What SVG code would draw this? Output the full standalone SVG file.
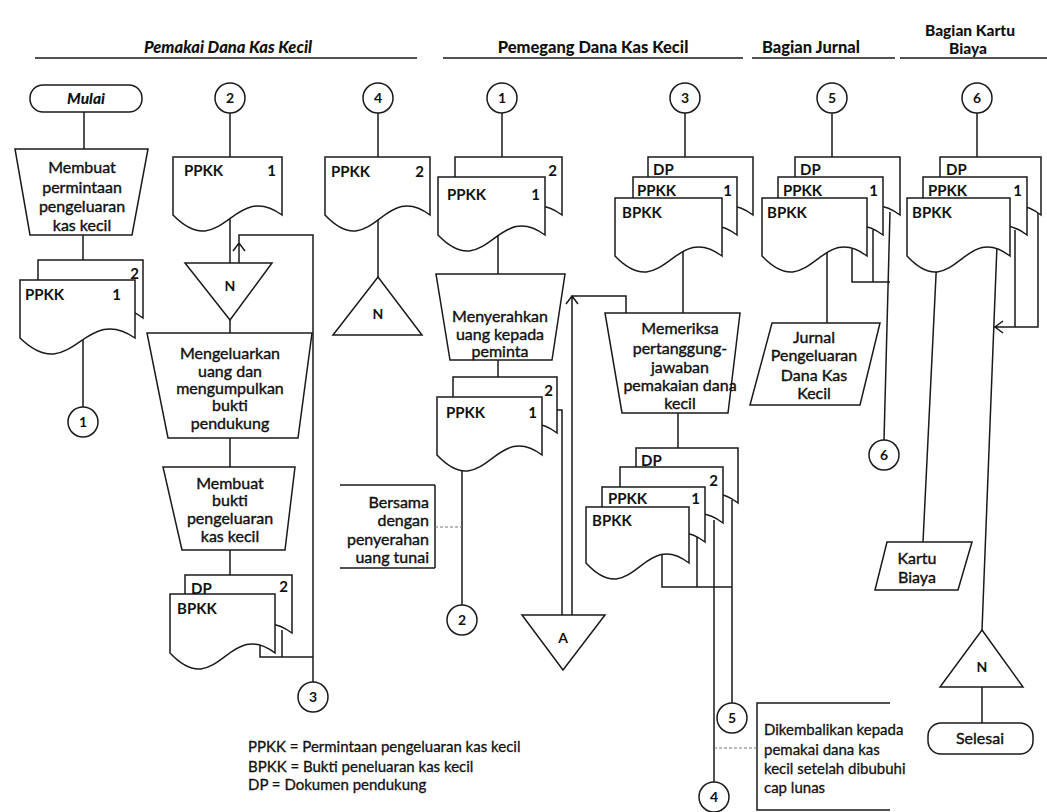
<svg xmlns="http://www.w3.org/2000/svg" width="1047" height="812" viewBox="0 0 1047 812">
<style>
.s{fill:#fff;stroke:#1a1a1a;stroke-width:1.5}
.l{fill:none;stroke:#1a1a1a;stroke-width:1.5}
.ds{fill:none;stroke:#777;stroke-width:1;stroke-dasharray:3 2}
text{font-family:Lato,"Open Sans","Liberation Sans",sans-serif;fill:#111}
.p{font-size:16px;text-anchor:middle;stroke:#111;stroke-width:0.4}
.d{font-size:15px;font-weight:bold}
.de{font-size:15px;font-weight:bold;text-anchor:end}
.c{font-size:14px;font-weight:bold;text-anchor:middle}
.h{font-size:16.5px;font-weight:900;text-anchor:middle}
.hk{font-size:15.5px;font-weight:900;text-anchor:middle}
.n{font-size:15px;stroke:#111;stroke-width:0.3}
.r{font-size:16px;text-anchor:end;stroke:#111;stroke-width:0.4}
</style>
<rect width="1047" height="812" fill="#fff"/>
<g id="header">
<text class="h" x="228" y="53" font-style="italic">Pemakai Dana Kas Kecil</text>
<text class="h" x="593" y="53">Pemegang Dana Kas Kecil</text>
<text class="h" x="811" y="53">Bagian Jurnal</text>
<text class="hk" x="970" y="36">Bagian Kartu</text>
<text class="hk" x="968" y="54">Biaya</text>
<path class="l" d="M35,58H417M443,58H743M752,58H895M900,58H1047"/>
</g>
<g id="connectors">
<path class="l" d="M84,112V150M83,235V260M83,330V407"/>
<path class="l" d="M230,113V157M230,210V263M230,320V333M230,438V467M230,550V575"/>
<path class="l" d="M239,263V235H313V682M233,251L239,243L245,251"/>
<path class="l" d="M260,640V657H313M282,630V657"/>
<path class="l" d="M378,113V157M378,210V277"/>
<path class="l" d="M502,113V157M498,230V274M498,360V377M462,450V605"/>
<path class="l" d="M557,410H562V615"/>
<path class="l" d="M572,615V296H626V313M566,304L572,296L578,304"/>
<path class="l" d="M435,485H340M435,568H340M435,485V568"/>
<path class="ds" d="M435,527H462"/>
<path class="l" d="M685,113V157M683,250V313M678,413V448"/>
<path class="l" d="M662,550V587H732M697,537V587M732,500V703M714,520V782"/>
<path class="l" d="M890,703H757V810H890"/>
<path class="ds" d="M714,748H757"/>
<path class="l" d="M832,113V157M827,250V323M852,245V282H890M873,230V282M890,212L884,440"/>
<path class="l" d="M977,113V157M937,255L923,542M997,245L982,630M1015,230V327M1038,212V327H995M1003,321L995,327L1003,333M982,687V723"/>
</g>
<g id="mulai"><rect class="s" x="30" y="85" width="112" height="27" rx="13"/><text class="hk" x="86" y="104" font-style="italic">Mulai</text></g>
<g id="membuat-permintaan"><path class="s" d="M15,149H148L132,235H30Z"/>
<text class="p" x="82" y="173">Membuat</text><text class="p" x="82" y="193">permintaan</text><text class="p" x="82" y="212">pengeluaran</text><text class="p" x="82" y="231">kas kecil</text></g>
<g id="ppkk-pemakai">
<path class="s" d="M38,260H143V318C95.8,282 85.3,368 38,318Z"/><text class="de" x="139" y="279">2</text>
<path class="s" d="M20,280H135V338C83.3,302 71.8,388 20,338Z"/><text class="d" x="25" y="300">PPKK</text><text class="de" x="121" y="300">1</text>
</g>
<g id="c1a"><circle class="s" cx="83" cy="422" r="15"/><text class="c" x="83" y="427">1</text></g>
<g id="c2a"><circle class="s" cx="230" cy="98" r="15"/><text class="c" x="230" y="103">2</text></g>
<g id="ppkk1-kembali"><path class="s" d="M173,157H282V215C233,179 222,265 173,215Z"/><text class="d" x="184" y="176">PPKK</text><text class="de" x="276" y="176">1</text></g>
<g id="arsip-n1"><path class="s" d="M185,263H272L230,320Z"/><text class="c" x="230" y="291">N</text></g>
<g id="mengeluarkan"><path class="s" d="M147,333H312L298,438H168Z"/>
<text class="p" x="230" y="359">Mengeluarkan</text><text class="p" x="230" y="377">uang dan</text><text class="p" x="230" y="394">mengumpulkan</text><text class="p" x="230" y="411">bukti</text><text class="p" x="230" y="429">pendukung</text></g>
<g id="membuat-bukti"><path class="s" d="M163,467H295L285,550H182Z"/>
<text class="p" x="230" y="489">Membuat</text><text class="p" x="230" y="506">bukti</text><text class="p" x="230" y="524">pengeluaran</text><text class="p" x="230" y="542">kas kecil</text></g>
<g id="bpkk-pemakai">
<path class="s" d="M185,575H292V633C243.9,597 233.2,683 185,633Z"/><text class="d" x="191" y="594">DP</text><text class="de" x="288" y="592">2</text>
<path class="s" d="M170,594H275V653C227.8,617 217.3,703 170,653Z"/><text class="d" x="177" y="614">BPKK</text>
</g>
<g id="c3a"><circle class="s" cx="313" cy="697" r="15"/><text class="c" x="313" y="702">3</text></g>
<g id="c4a"><circle class="s" cx="378" cy="98" r="15"/><text class="c" x="378" y="103">4</text></g>
<g id="ppkk2-pemakai"><path class="s" d="M325,157H430V215C382.8,179 372.3,265 325,215Z"/><text class="d" x="331" y="177">PPKK</text><text class="de" x="424" y="177">2</text></g>
<g id="arsip-n2"><path class="s" d="M378,277L422,335H333Z"/><text class="c" x="378" y="319">N</text></g>
<g id="c1b"><circle class="s" cx="502" cy="98" r="15"/><text class="c" x="502" y="103">1</text></g>
<g id="ppkk-pemegang">
<path class="s" d="M455,157H562V215C513.9,179 503.2,265 455,215Z"/><text class="de" x="557" y="176">2</text>
<path class="s" d="M438,177H545V235C496.9,199 486.2,285 438,235Z"/><text class="d" x="447" y="200">PPKK</text><text class="de" x="540" y="200">1</text>
</g>
<g id="menyerahkan"><path class="s" d="M436,274H565L552,360H450Z"/>
<text class="p" x="500" y="322">Menyerahkan</text><text class="p" x="500" y="340">uang kepada</text><text class="p" x="500" y="357">peminta</text></g>
<g id="ppkk-diserahkan">
<path class="s" d="M453,377H557V433C510.2,397 499.8,483 453,433Z"/><text class="de" x="553" y="396">2</text>
<path class="s" d="M437,397H542V455C494.8,419 484.3,505 437,455Z"/><text class="d" x="446" y="418">PPKK</text><text class="de" x="537" y="418">1</text>
</g>
<g id="note-bersama"><text class="r" x="429" y="508">Bersama</text><text class="r" x="429" y="526">dengan</text><text class="r" x="429" y="545">penyerahan</text><text class="r" x="429" y="563">uang tunai</text></g>
<g id="c2b"><circle class="s" cx="462" cy="620" r="15"/><text class="c" x="462" y="625">2</text></g>
<g id="arsip-a"><path class="s" d="M522,615H605L563,670Z"/><text class="c" x="563" y="643">A</text></g>
<g id="c3b"><circle class="s" cx="685" cy="98" r="15"/><text class="c" x="685" y="103">3</text></g>
<g id="dok-pemegang">
<path class="s" d="M648,157H753V215C705.8,179 695.3,265 648,215Z"/><text class="d" x="653" y="175">DP</text>
<path class="s" d="M633,177H737V235C690.2,199 679.8,285 633,235Z"/><text class="d" x="637" y="196">PPKK</text><text class="de" x="732" y="196">1</text>
<path class="s" d="M615,198H722V256C673.9,220 663.2,306 615,256Z"/><text class="d" x="622" y="218">BPKK</text>
</g>
<g id="memeriksa"><path class="s" d="M605,313H740L728,413H622Z"/>
<text class="p" x="680" y="334">Memeriksa</text><text class="p" x="680" y="354">pertanggung-</text><text class="p" x="680" y="373">jawaban</text><text class="p" x="680" y="391">pemakaian dana</text><text class="p" x="680" y="409">kecil</text></g>
<g id="dok-diperiksa">
<path class="s" d="M636,448H738V503C692.1,467 681.9,553 636,503Z"/><text class="d" x="641" y="466">DP</text>
<path class="s" d="M620,467H723V523C676.7,487 666.4,573 620,523Z"/><text class="de" x="718" y="486">2</text>
<path class="s" d="M602,487H705V542C658.7,506 648.4,592 602,542Z"/><text class="d" x="608" y="504">PPKK</text><text class="de" x="700" y="504">1</text>
<path class="s" d="M586,507H689V563C642.7,527 632.4,613 586,563Z"/><text class="d" x="592" y="526">BPKK</text>
</g>
<g id="c5a"><circle class="s" cx="732" cy="718" r="15"/><text class="c" x="732" y="723">5</text></g>
<g id="c4b"><circle class="s" cx="714" cy="797" r="15"/><text class="c" x="714" y="802">4</text></g>
<g id="note-dikembalikan"><text class="n" x="764" y="735">Dikembalikan kepada</text><text class="n" x="764" y="755">pemakai dana kas</text><text class="n" x="764" y="774">kecil setelah dibubuhi</text><text class="n" x="764" y="793">cap lunas</text></g>
<g id="c5b"><circle class="s" cx="832" cy="98" r="15"/><text class="c" x="832" y="103">5</text></g>
<g id="dok-jurnal">
<path class="s" d="M795,157H900V215C852.8,179 842.3,265 795,215Z"/><text class="d" x="800" y="175">DP</text>
<path class="s" d="M778,177H883V235C835.8,199 825.3,285 778,235Z"/><text class="d" x="783" y="196">PPKK</text><text class="de" x="878" y="196">1</text>
<path class="s" d="M762,198H867V256C819.8,220 809.3,306 762,256Z"/><text class="d" x="767" y="218">BPKK</text>
</g>
<g id="jurnal"><path class="s" d="M772,323H880L860,405H750Z"/>
<text class="p" x="814" y="343">Jurnal</text><text class="p" x="814" y="361">Pengeluaran</text><text class="p" x="814" y="381">Dana Kas</text><text class="p" x="814" y="399">Kecil</text></g>
<g id="c6a"><circle class="s" cx="884" cy="455" r="15"/><text class="c" x="884" y="460">6</text></g>
<g id="c6b"><circle class="s" cx="977" cy="98" r="15"/><text class="c" x="977" y="103">6</text></g>
<g id="dok-kartu">
<path class="s" d="M940,157H1041V215C995.6,179 985.5,265 940,215Z"/><text class="d" x="946" y="175">DP</text>
<path class="s" d="M923,177H1027V235C980.2,199 969.8,285 923,235Z"/><text class="d" x="928" y="196">PPKK</text><text class="de" x="1022" y="196">1</text>
<path class="s" d="M907,198H1010V256C963.7,220 953.4,306 907,256Z"/><text class="d" x="912" y="218">BPKK</text>
</g>
<g id="kartu-biaya"><path class="s" d="M887,542H972L958,590H875Z"/><text class="p" x="917" y="564">Kartu</text><text class="p" x="917" y="583">Biaya</text></g>
<g id="arsip-n3"><path class="s" d="M982,630L1023,687H940Z"/><text class="c" x="982" y="672">N</text></g>
<g id="selesai"><rect class="s" x="928" y="723" width="105" height="31" rx="13"/><text class="p" x="980" y="744">Selesai</text></g>
<g id="legend">
<text class="n" x="248" y="752">PPKK = Permintaan pengeluaran kas kecil</text>
<text class="n" x="248" y="772">BPKK = Bukti peneluaran kas kecil</text>
<text class="n" x="248" y="790">DP = Dokumen pendukung</text>
</g>
</svg>
